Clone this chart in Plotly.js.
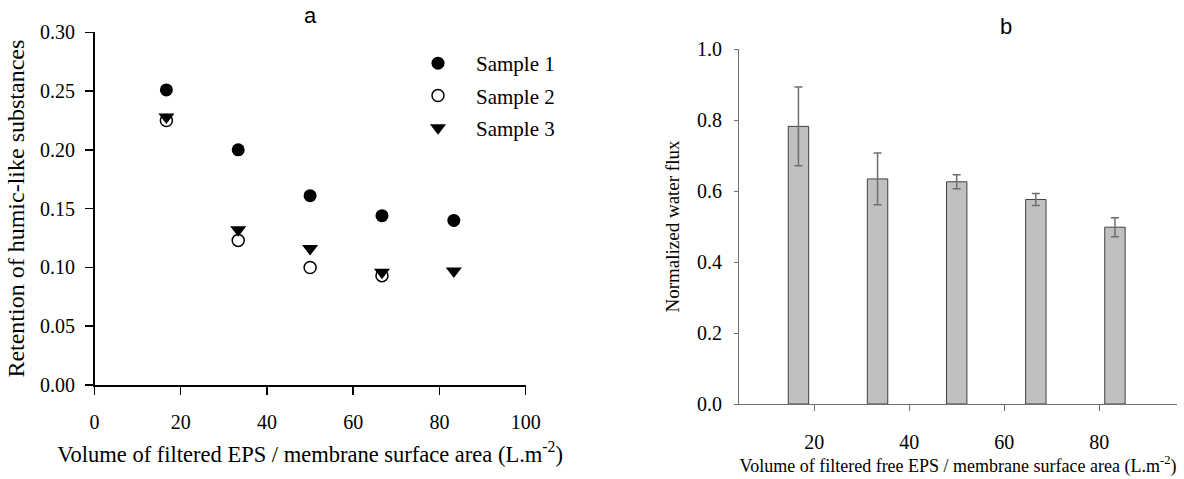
<!DOCTYPE html>
<html>
<head>
<meta charset="utf-8">
<script src="https://cdn.plot.ly/plotly-3.0.1.min.js"></script>
<style>html,body{margin:0;padding:0;background:#fff;}#chart{width:1184px;height:479px;}</style>
</head>
<body>
<div id="chart"></div>
<script>
// Panel a: retention of humic-like substances
const volumeA = [16.67, 33.33, 50, 66.67, 83.33];
const sample1 = [0.251, 0.200, 0.161, 0.144, 0.140];
const sample2 = [0.225, 0.123, 0.100, 0.093, null];
const sample3 = [0.228, 0.132, 0.116, 0.096, 0.097];
const xTicksA = [0, 20, 40, 60, 80, 100];
const yTicksA = [0, 0.05, 0.10, 0.15, 0.20, 0.25, 0.30];

// Panel b: normalized water flux
const volumeB = [16.67, 33.33, 50, 66.67, 83.33];
const flux = [0.782, 0.634, 0.626, 0.576, 0.498];
const fluxErr = [0.111, 0.073, 0.020, 0.017, 0.027];
const xTicksB = [20, 40, 60, 80];
const yTicksB = [0, 0.2, 0.4, 0.6, 0.8, 1.0];

const serif = 'Liberation Serif, Times New Roman, serif';
const W = 1184, H = 479;
const px = v => v / W;
const py = v => 1 - v / H;

const traces = [
  {x: volumeA, y: sample1, type: 'scatter', mode: 'markers', name: 'Sample 1',
   marker: {symbol: 'circle', size: 13, color: '#000'}, xaxis: 'x', yaxis: 'y', legendgroup: 'g1'},
  {x: volumeA, y: sample2, type: 'scatter', mode: 'markers', name: 'Sample 2',
   marker: {symbol: 'circle', size: 12, color: '#fff', line: {color: '#000', width: 1.5}}, xaxis: 'x', yaxis: 'y', legendgroup: 'g2'},
  {x: volumeA, y: sample3, type: 'scatter', mode: 'markers', name: 'Sample 3',
   marker: {symbol: 'triangle-down', size: 14, color: '#000'}, xaxis: 'x', yaxis: 'y', legendgroup: 'g3'},
  {x: volumeB, y: flux, type: 'bar', width: 4.3, showlegend: false,
   marker: {color: '#c0c0c0', line: {color: '#404040', width: 1}},
   error_y: {type: 'data', array: fluxErr, visible: true, color: '#6e6e6e', thickness: 1.5, width: 4},
   xaxis: 'x2', yaxis: 'y2'}
];

const layout = {
  width: W, height: H,
  margin: {l: 0, r: 0, t: 0, b: 0},
  paper_bgcolor: '#fff', plot_bgcolor: '#fff',
  font: {family: serif, color: '#000', size: 20},
  showlegend: true,
  legend: {x: px(400), y: py(43), xanchor: 'left', yanchor: 'top',
           font: {family: serif, size: 21, color: '#000'},
           itemwidth: 66, traceorder: 'grouped', tracegroupgap: 2, bgcolor: 'rgba(0,0,0,0)'},
  bargap: 0,
  xaxis: {domain: [px(94.5), px(525.7)], range: [0, 100], tickvals: xTicksA,
          showline: true, linecolor: '#000', linewidth: 1.5, mirror: false,
          ticks: 'outside', ticklen: 8, tickwidth: 1.5, tickcolor: '#000',
          showgrid: false, zeroline: false, anchor: 'y',
          tickfont: {family: serif, size: 20}, ticklabelstandoff: 10,
          title: {text: 'Volume of filtered EPS / membrane surface area (L.m<sup>-2</sup>)',
                  font: {family: serif, size: 22.5}, standoff: 14}},
  yaxis: {domain: [py(385), py(32.3)], range: [0, 0.30], tickvals: yTicksA, tickformat: '.2f',
          showline: true, linecolor: '#000', linewidth: 1.5,
          ticks: 'outside', ticklen: 8, tickwidth: 1.5, tickcolor: '#000',
          showgrid: false, zeroline: false, anchor: 'x',
          tickfont: {family: serif, size: 20}, ticklabelstandoff: 6,
          title: {text: 'Retention of humic-like substances', font: {family: serif, size: 24}, standoff: 8}},
  xaxis2: {domain: [px(739), px(1177)], range: [4.15, 96.4], tickvals: xTicksB,
           showline: true, linecolor: '#707070', linewidth: 1,
           ticks: 'outside', ticklen: 6, tickwidth: 1, tickcolor: '#707070',
           showgrid: false, zeroline: false, anchor: 'y2',
           tickfont: {family: serif, size: 20}, ticklabelstandoff: 14,
           title: {text: 'Volume of filtered free EPS / membrane surface area (L.m<sup>-2</sup>)',
                   font: {family: serif, size: 18}, standoff: 6}},
  yaxis2: {domain: [py(404), py(49)], range: [0, 1.0], tickvals: yTicksB, tickformat: '.1f',
           showline: true, linecolor: '#707070', linewidth: 1,
           ticks: 'outside', ticklen: 4, tickwidth: 1, tickcolor: '#707070',
           showgrid: false, zeroline: false, anchor: 'x2',
           tickfont: {family: serif, size: 20}, ticklabelstandoff: 8,
           title: {text: 'Normalized water flux', font: {family: serif, size: 19}, standoff: 12}},
  annotations: [
    {text: 'a', x: px(310), y: py(16), xref: 'paper', yref: 'paper', showarrow: false,
     xanchor: 'center', yanchor: 'middle', font: {family: 'Liberation Sans, Arial, sans-serif', size: 22}},
    {text: 'b', x: px(1006), y: py(27), xref: 'paper', yref: 'paper', showarrow: false,
     xanchor: 'center', yanchor: 'middle', font: {family: 'Liberation Sans, Arial, sans-serif', size: 22}}
  ]
};

Plotly.newPlot('chart', traces, layout, {displayModeBar: false, staticPlot: true});
</script>
</body>
</html>
